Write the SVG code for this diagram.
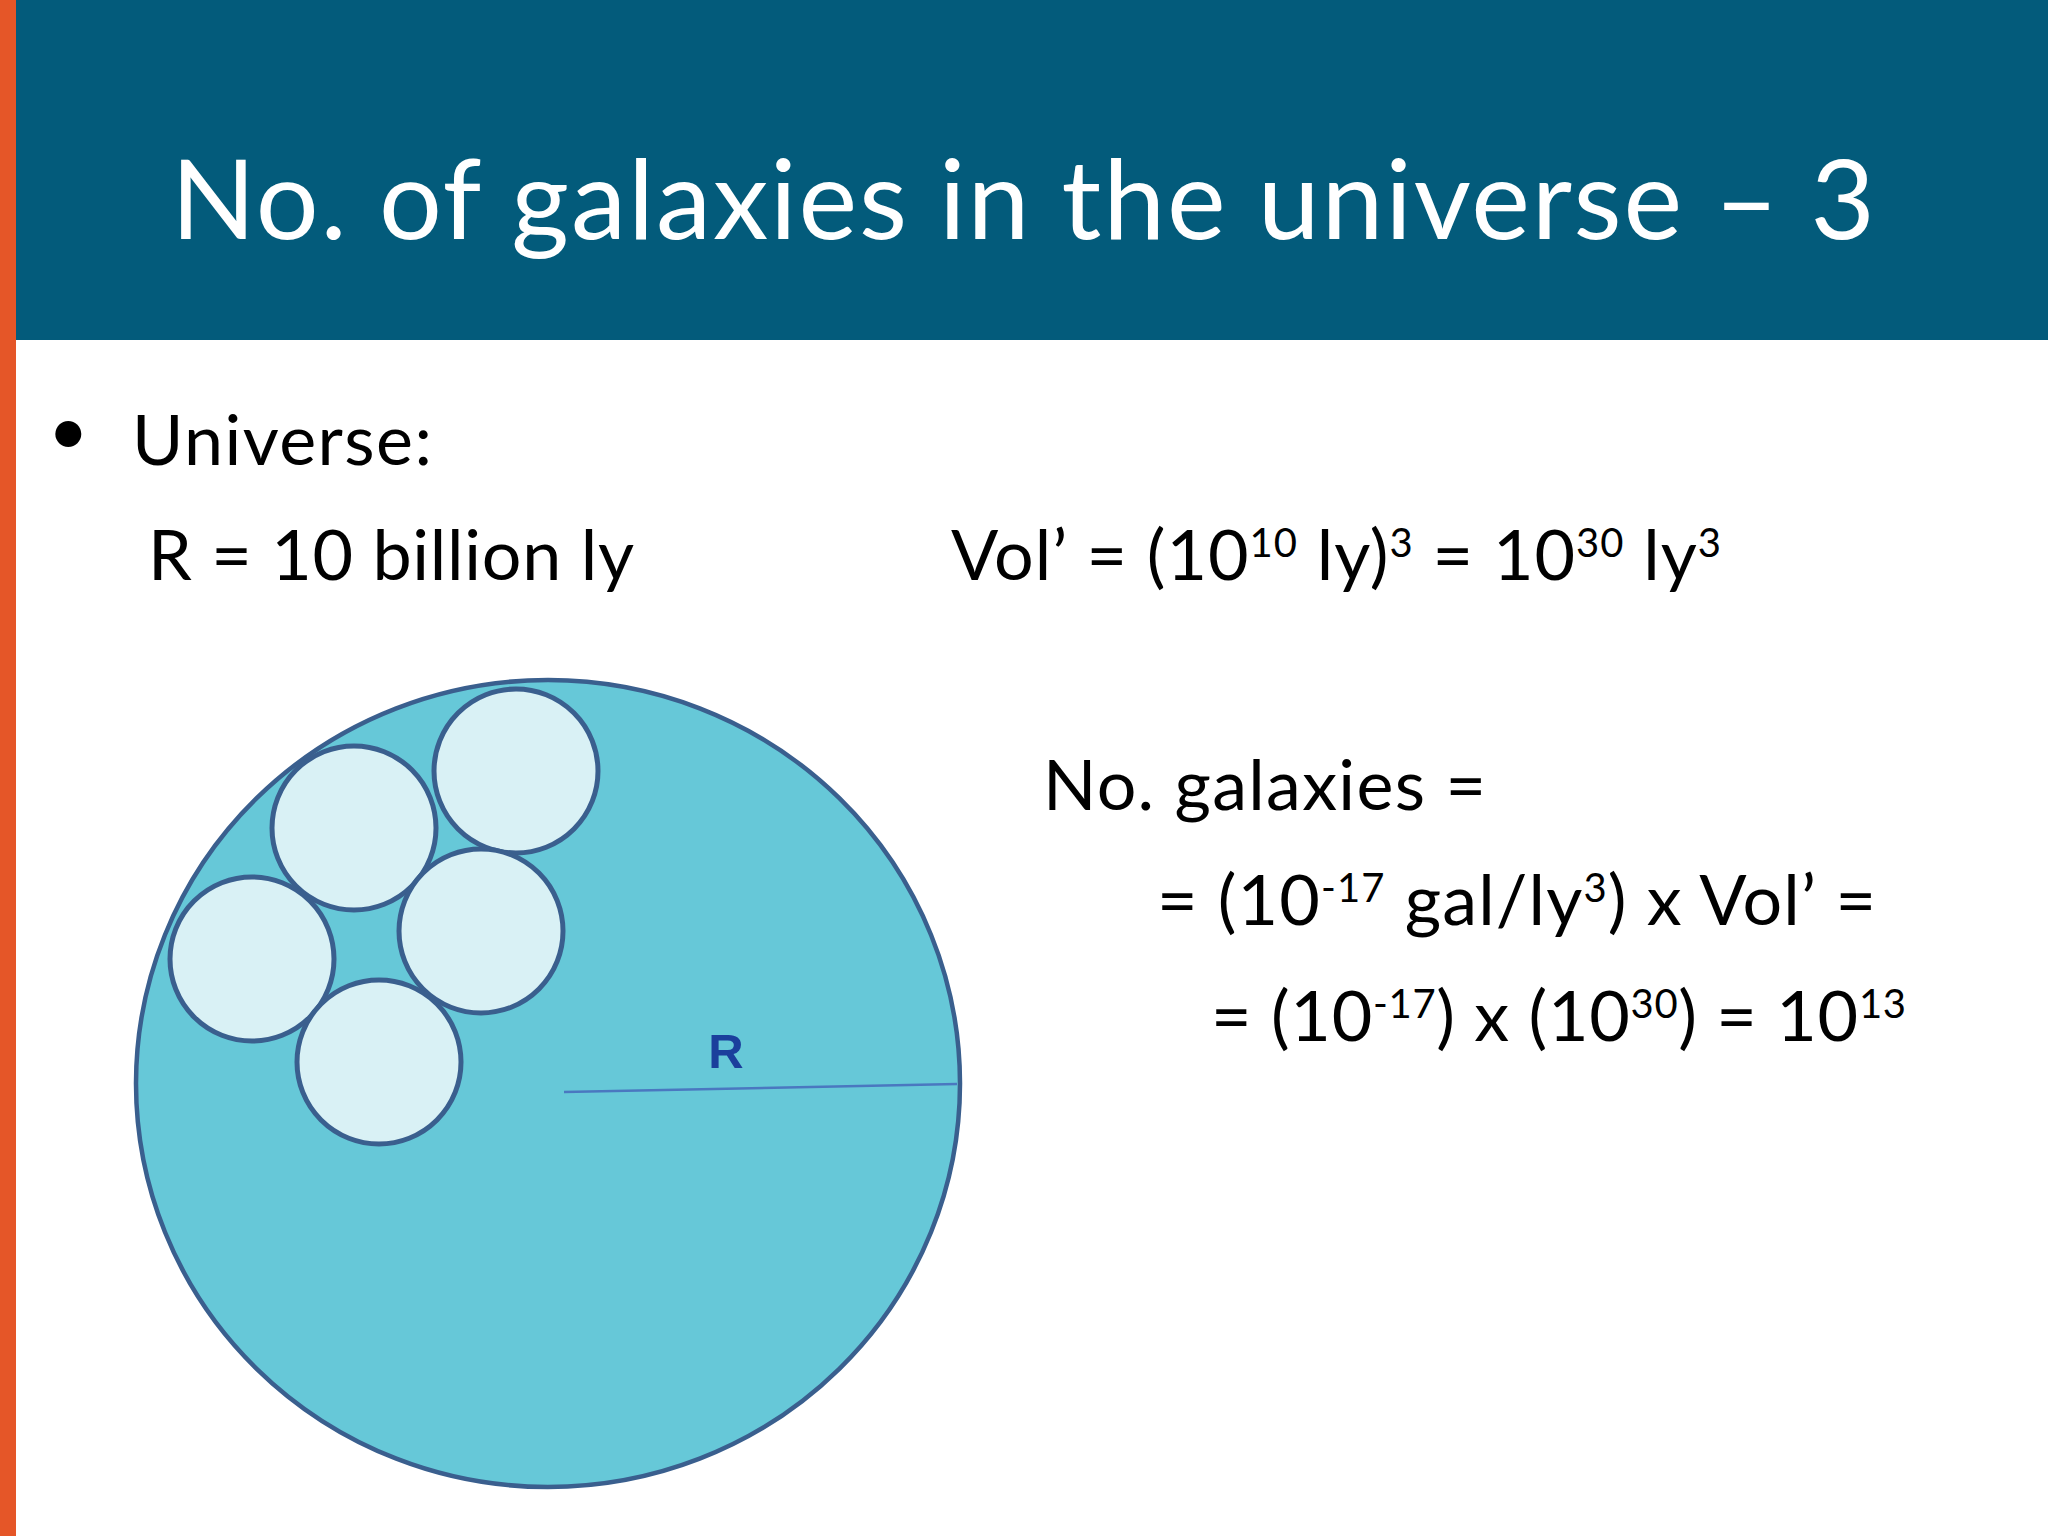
<svg xmlns="http://www.w3.org/2000/svg" width="2048" height="1536" viewBox="0 0 2048 1536">
<style>
.body{font-family:Lato,"Open Sans","DejaVu Sans",sans-serif;font-size:70px;fill:#000}
.sup{font-size:40px}
.title{font-family:Lato,"Open Sans","DejaVu Sans",sans-serif;font-size:111px;fill:#fff}
.big{fill:#66c8d8;stroke:#3a5f8e;stroke-width:4.5}
.gal{fill:#d9f1f5;stroke:#3a5f8e;stroke-width:5}
</style>
<rect x="0" y="0" width="2048" height="1536" fill="#fff"/>
<g id="header">
<rect x="0" y="0" width="2048" height="340" fill="#035b7b"/>
<text class="title" x="171" y="239" textLength="1704">No. of galaxies in the universe – 3</text>
</g>
<rect id="accent" x="0" y="0" width="16" height="1536" fill="#e55628"/>
<g id="text-left">
<text class="body" x="48" y="455">•</text>
<text class="body" x="132" y="465" textLength="300">Universe:</text>
<text class="body" x="148" y="580" textLength="486">R = 10 billion ly</text>
</g>
<g id="text-vol">
<text class="body" x="951" y="580" textLength="770">Vol’ = (10<tspan class="sup" dy="-23">10</tspan><tspan dy="23"> ly)</tspan><tspan class="sup" dy="-23">3</tspan><tspan dy="23"> = 10</tspan><tspan class="sup" dy="-23">30</tspan><tspan dy="23"> ly</tspan><tspan class="sup" dy="-23">3</tspan></text>
</g>
<g id="text-galaxies">
<text class="body" x="1043" y="810" textLength="443">No. galaxies =</text>
<text class="body" x="1157" y="925" textLength="719">= (10<tspan class="sup" dy="-23">-17</tspan><tspan dy="23"> gal/ly</tspan><tspan class="sup" dy="-23">3</tspan><tspan dy="23">) x Vol’ =</tspan></text>
<text class="body" x="1211" y="1041" textLength="695">= (10<tspan class="sup" dy="-23">-17</tspan><tspan dy="23">) x (10</tspan><tspan class="sup" dy="-23">30</tspan><tspan dy="23">) = 10</tspan><tspan class="sup" dy="-23">13</tspan></text>
</g>
<g id="universe">
<ellipse class="big" cx="548" cy="1083.5" rx="412" ry="403.5"/>
</g>
<g id="galaxy-1"><circle class="gal" cx="516" cy="771" r="82"/></g>
<g id="galaxy-2"><circle class="gal" cx="354" cy="828" r="82"/></g>
<g id="galaxy-3"><circle class="gal" cx="481" cy="931" r="82"/></g>
<g id="galaxy-4"><circle class="gal" cx="252" cy="959" r="82"/></g>
<g id="galaxy-5"><circle class="gal" cx="379" cy="1062" r="82"/></g>
<g id="connectors">
<line x1="564" y1="1092" x2="957" y2="1084" stroke="#4a78c0" stroke-width="2.5"/>
</g>
<g id="label-R">
<text x="726" y="1068" text-anchor="middle" font-family="'Liberation Sans',Arial,sans-serif" font-weight="bold" font-size="49" fill="#1b3f9c">R</text>
</g>
</svg>
